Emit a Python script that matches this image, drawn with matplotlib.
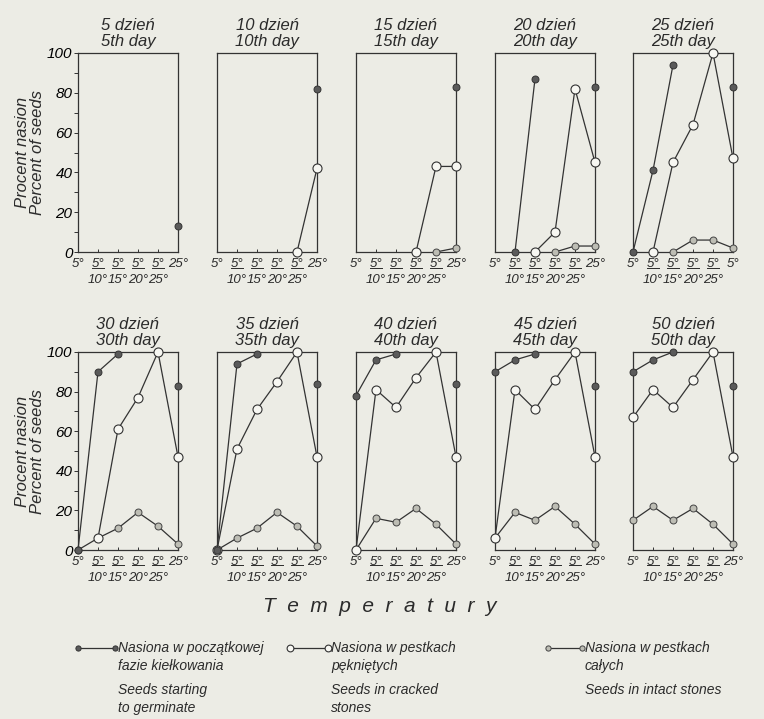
import numpy as np
import matplotlib.pyplot as plt

nan = np.nan

# days of observation (one panel per day)
days = [5, 10, 15, 20, 25, 30, 35, 40, 45, 50]

# temperature variants on the x axis
temp_top = ['5°', '5°', '5°', '5°', '5°', '25°']
temp_bottom = ['', '10°', '15°', '20°', '25°', '']
# the 25th day panel is printed with "5°" as the last label
last_label = ['25°', '25°', '25°', '25°', '5°', '25°', '25°', '25°', '25°', '25°']

# percent of seeds, one list per panel
starting = [
    [nan, nan, nan, nan, nan, 13],
    [nan, nan, nan, nan, nan, 82],
    [nan, nan, nan, nan, nan, 83],
    [nan, 0, 87, nan, nan, 83],
    [0, 41, 94, nan, nan, 83],
    [0, 90, 99, nan, nan, 83],
    [0, 94, 99, nan, nan, 84],
    [78, 96, 99, nan, nan, 84],
    [90, 96, 99, nan, nan, 83],
    [90, 96, 100, nan, nan, 83],
]
cracked = [
    [nan, nan, nan, nan, nan, nan],
    [nan, nan, nan, nan, 0, 42],
    [nan, nan, nan, 0, 43, 43],
    [nan, nan, 0, 10, 82, 45],
    [nan, 0, 45, 64, 100, 47],
    [nan, 6, 61, 77, 100, 47],
    [0, 51, 71, 85, 100, 47],
    [0, 81, 72, 87, 100, 47],
    [6, 81, 71, 86, 100, 47],
    [67, 81, 72, 86, 100, 47],
]
intact = [
    [nan, nan, nan, nan, nan, nan],
    [nan, nan, nan, nan, nan, nan],
    [nan, nan, nan, nan, 0, 2],
    [nan, nan, nan, 0, 3, 3],
    [nan, nan, 0, 6, 6, 2],
    [0, 6, 11, 19, 12, 3],
    [0, 6, 11, 19, 12, 2],
    [0, 16, 14, 21, 13, 3],
    [6, 19, 15, 22, 13, 3],
    [15, 22, 15, 21, 13, 3],
]

bg = '#ecece5'
ink = '#2b2b2b'
fam = 'Liberation Sans'

plt.rcParams['font.family'] = fam
plt.rcParams['font.style'] = 'italic'
plt.rcParams['text.color'] = ink

W, H = 764, 719
fig = plt.figure(figsize=(W / 100, H / 100), dpi=100, facecolor=bg)

sty_start = dict(marker='o', ms=5, mfc='#5a5a5a', mec='#333333', mew=0.7)
sty_crack = dict(marker='o', ms=6.5, mfc='#f7f7f2', mec='#333333', mew=0.8)
sty_intact = dict(marker='o', ms=5, mfc='#bdbdb4', mec='#444444', mew=0.7)

lefts = [78, 217, 356, 495, 633]
rows = [(53, 252), (352, 550)]
x = np.arange(6)

for k, d in enumerate(days):
    r, c = divmod(k, 5)
    top, bot = rows[r]
    ax = fig.add_axes([lefts[c] / W, 1 - bot / H, 100 / W, (bot - top) / H])
    ax.set_facecolor('none')
    for s in ax.spines.values():
        s.set_color('#333333')
        s.set_linewidth(0.9)
    ax.set_xlim(0, 5)
    ax.set_ylim(0, 100)

    ax.plot(x, intact[k], color='#333333', lw=0.9, clip_on=False, zorder=3, **sty_intact)
    ax.plot(x, cracked[k], color='#333333', lw=0.9, clip_on=False, zorder=4, **sty_crack)
    ax.plot(x, starting[k], color='#333333', lw=0.9, clip_on=False, zorder=5, **sty_start)

    ax.set_xticks(x)
    ax.set_xticklabels([])
    ax.tick_params(axis='x', direction='in', length=2, width=0.7, color='#333333')
    if c == 0:
        ax.set_yticks(np.arange(0, 101, 20))
        ax.set_yticks(np.arange(10, 100, 20), minor=True)
        ax.set_yticklabels([str(v) for v in range(0, 101, 20)], fontsize=11)
        ax.tick_params(axis='y', which='both', direction='out', length=3, width=0.7,
                       color='#333333', pad=1)
    else:
        ax.set_yticks([])

    # x labels: "5°" and the fraction-like "5°/10°" variants
    for i in x:
        lab = last_label[k] if i == 5 else temp_top[i]
        ax.annotate(lab, xy=(i, 0), xycoords=('data', 'axes fraction'),
                    xytext=(0, -4), textcoords='offset points',
                    ha='center', va='top', fontsize=9.5, annotation_clip=False)
        if temp_bottom[i]:
            ax.annotate(temp_bottom[i], xy=(i, 0), xycoords=('data', 'axes fraction'),
                        xytext=(0, -16), textcoords='offset points',
                        ha='center', va='top', fontsize=9.5, annotation_clip=False)
            ax.plot([i - 0.28, i + 0.28], [-0.078, -0.078], color=ink, lw=0.7,
                    transform=ax.get_xaxis_transform(), clip_on=False)

    ax.set_title('%d dzień\n%dth day' % (d, d), fontsize=12, linespacing=1.05, pad=5)

for top, bot in rows:
    fig.text(30 / W, 1 - (top + bot) / 2 / H, 'Procent nasion\nPercent of seeds',
             rotation=90, ha='center', va='center', fontsize=12, linespacing=1.0)

fig.text(380 / W, 1 - 607 / H, 'T  e  m  p  e  r  a  t  u  r  y', ha='center',
         va='center', fontsize=15)

# legend drawn in pixel coordinates
lg = fig.add_axes([0, 0, 1, 1], facecolor='none')
lg.set_xlim(0, W)
lg.set_ylim(H, 0)
lg.axis('off')
entries = [
    (78, 115, sty_start, ['Nasiona w początkowej', 'fazie kiełkowania'],
     ['Seeds starting', 'to germinate']),
    (290, 328, sty_crack, ['Nasiona w pestkach', 'pękniętych'],
     ['Seeds in cracked', 'stones']),
    (548, 582, sty_intact, ['Nasiona w pestkach', 'całych'],
     ['Seeds in intact stones']),
]
for x0, x1, sty, pl, en in entries:
    s = dict(sty)
    s['ms'] = s['ms'] * 0.75
    lg.plot([x0, x1], [648, 648], color='#333333', lw=0.9, **s)
    for j, t in enumerate(pl):
        lg.text(x1 + 3, 648 + j * 18, t, ha='left', va='center', fontsize=10)
    for j, t in enumerate(en):
        lg.text(x1 + 3, 690 + j * 18, t, ha='left', va='center', fontsize=10)

fig.savefig('out.png', dpi=100, facecolor=bg)
